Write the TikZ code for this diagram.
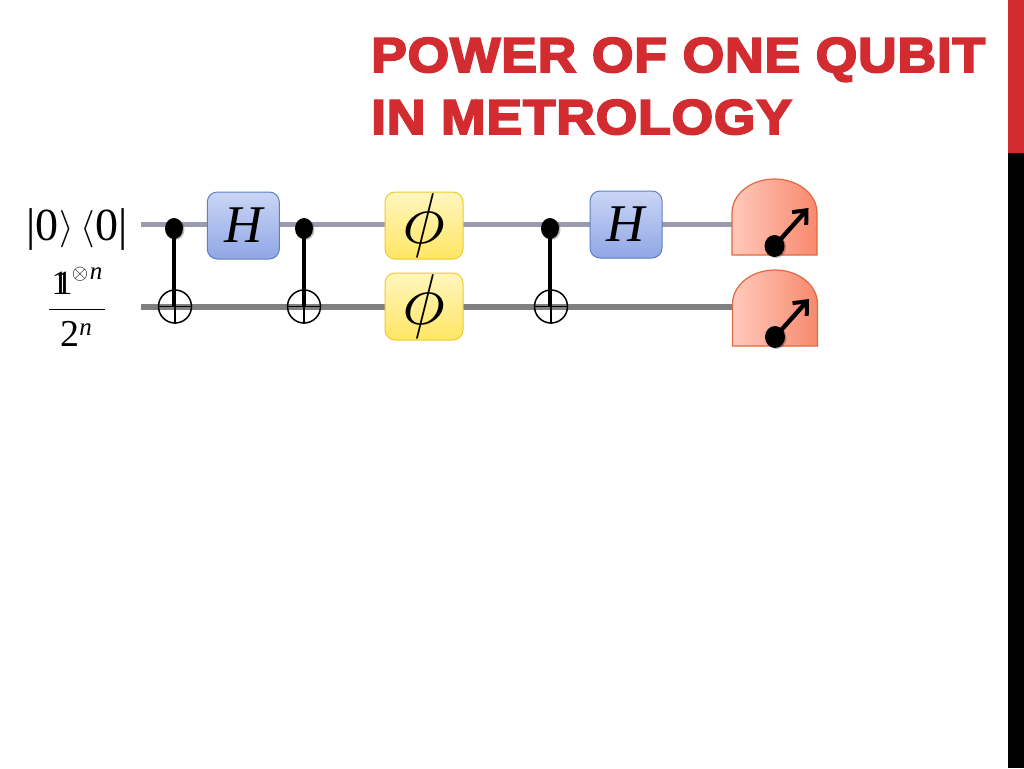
\documentclass[tikz,border=0pt]{standalone}
\usepackage{fontspec}
\usetikzlibrary{arrows.meta,shapes.geometric,shadows}
\setmainfont{Liberation Serif}
\newfontfamily\titlefont[FakeBold=4,FakeStretch=1.09,LetterSpace=1.7]{Liberation Sans Bold}
\definecolor{redbar}{HTML}{D22B30}
\definecolor{wireA}{HTML}{9B9BAE}
\definecolor{wireB}{HTML}{7F7F7F}
\definecolor{hborder}{HTML}{5F7FC4}
\definecolor{htop}{HTML}{CBD6F5}
\definecolor{hbot}{HTML}{90A6E6}
\definecolor{pborder}{HTML}{F0C92C}
\definecolor{ptop}{HTML}{FFF6BE}
\definecolor{pbot}{HTML}{FFE664}
\definecolor{mborder}{HTML}{E4683F}
\definecolor{mleft}{HTML}{FFC9BC}
\definecolor{mright}{HTML}{F8896D}
\tikzset{
  titletext/.style={anchor=base west,inner sep=0pt,text=redbar,font=\titlefont\fontsize{49}{49}\selectfont},
  ctrl/.style={ellipse,fill=black,inner sep=0pt,minimum width=18pt,minimum height=21pt,
    drop shadow={shadow xshift=1.5pt,shadow yshift=-1pt,opacity=.25,fill=black}},
  targetq/.style={circle,draw=black,line width=1.5pt,inner sep=0pt,minimum size=33pt},
  crossline/.style={line width=1.5pt,black},
  hbox/.style={draw=hborder,line width=1pt,rounded corners=10pt,top color=htop,bottom color=hbot,
    minimum width=72pt,minimum height=67pt,inner sep=0pt,font=\fontsize{53}{53}\selectfont\itshape},
  phibox/.style={draw=pborder,line width=1pt,rounded corners=10pt,top color=ptop,bottom color=pbot,
    minimum width=78pt,minimum height=67pt,inner sep=0pt,font=\normalsize},
  wireone/.style={line width=5.5pt,wireA},
  wiretwo/.style={line width=6pt,wireB},
  link/.style={line width=3.4pt,black},
  lab/.style={inner sep=0pt,anchor=base,font=\fontsize{46}{46}\selectfont},
  needledot/.style={ellipse,fill=black,inner sep=0pt,minimum width=20pt,minimum height=22pt,
    drop shadow={shadow xshift=1.5pt,shadow yshift=-1pt,opacity=.25,fill=black}},
  meter/.pic={
    \draw[draw=mborder,line width=1.2pt,left color=mleft,right color=mright]
      (-42.5,0) -- (-42.5,-42) .. controls (-42.5,-61) and (-23.4,-76) .. (0,-76)
      .. controls (23.4,-76) and (42.5,-61) .. (42.5,-42) -- (42.5,0) -- cycle;
    \coordinate (-tip) at (34,-47);
    \node[needledot] (-d) at (0,-9) {};
    \draw[line width=4.4pt,-{Straight Barb[length=11pt,width=19pt,line width=4pt]}] (-d.center) -- (-tip);
  }
}
\begin{document}
\begin{tikzpicture}[x=1pt,y=-1pt]
\useasboundingbox (0,0) rectangle (1024,768);
\fill[white] (0,0) rectangle (1024,768);
\fill[redbar] (1008,0) rectangle (1024,153);
\fill[black] (1008,153) rectangle (1024,768);
\node[titletext] (t1) at (371,72) {POWER OF ONE QUBIT};
\node[titletext] (t2) at (371,134) {IN METROLOGY};
% labels
\node[lab] (ket) at (77,240) {|0\kern1pt\raisebox{2pt}{\scalebox{1.5}{$\rangle$}}\kern6pt\raisebox{2pt}{\scalebox{1.5}{$\langle$}}\kern1pt 0|};
\node[lab,font=\fontsize{34}{34}\selectfont] (one) at (60,294) {\rlap{\kern4pt 1}1};
\node[inner sep=0pt,anchor=base,font=\normalsize] (otimes) at (80,279) {\scalebox{2.1}{$\otimes$}};
\node[inner sep=0pt,anchor=base,font=\fontsize{25}{25}\selectfont\itshape] (n1) at (96,279) {n};
\node[inner sep=0pt,anchor=base,font=\fontsize{38}{38}\selectfont] (two) at (69.5,346) {2};
\node[inner sep=0pt,anchor=base,font=\fontsize{25}{25}\selectfont\itshape] (n2) at (85.5,335) {n};
\coordinate (barl) at (49,309.5);
\coordinate (barr) at (105,309.5);
\draw[line width=1.5pt] (barl) -- (barr);
% wires
\coordinate (s1) at (141,224.5);
\coordinate (s2) at (141,306.5);
\coordinate (e1) at (733,224.5);
\coordinate (e2) at (733,306.5);
\draw[wireone] (s1) -- (e1);
\draw[wiretwo] (s2) -- (e2);
\pic (m1) at (774.5,255) {meter};
\pic (m2) at (775,346) {meter};
\node[hbox] (h1) at (243.3,225.5) {H};
\node[hbox] (h2) at (626,224.5) {H};
\node[phibox] (p1) at (424,225.5) {\scalebox{7.2}{$\phi$}};
\node[phibox] (p2) at (424,306.5) {\scalebox{7.2}{$\phi$}};
\node[targetq] (x1) at (175,306.5) {};
\node[targetq] (x2) at (304,306.5) {};
\node[targetq] (x3) at (551,306.5) {};
\draw[crossline] (x1.west) -- (x1.east) (x1.north) -- (x1.south);
\draw[crossline] (x2.west) -- (x2.east) (x2.north) -- (x2.south);
\draw[crossline] (x3.west) -- (x3.east) (x3.north) -- (x3.south);
\node[ctrl] (c1) at (174,228.5) {};
\node[ctrl] (c2) at (304,228.5) {};
\node[ctrl] (c3) at (550,228.5) {};
\draw[link] (c1.center) -- (c1.center |- x1.center);
\draw[link] (c2.center) -- (x2.center);
\draw[link] (c3.center) -- (c3.center |- x3.center);
\end{tikzpicture}
\end{document}
